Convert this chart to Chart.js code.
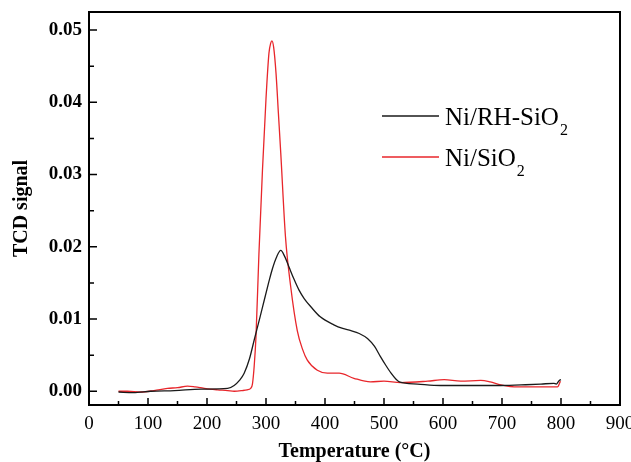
<!DOCTYPE html>
<html>
<head>
<meta charset="utf-8">
<script src="https://cdn.jsdelivr.net/npm/chart.js@4.4.1/dist/chart.umd.min.js"></script>
<style>
  html, body { margin: 0; padding: 0; background: #fff; }
</style>
</head>
<body>
<canvas id="tpr_chart" width="631" height="462"></canvas>
<script>
// TPR profiles
const rhTemps  = [50, 75, 105, 145, 190, 235, 246, 255, 263, 272, 280, 290, 297, 305, 311, 318, 325, 332, 339, 347, 356, 365, 376, 392, 415, 430, 444, 458, 472, 484, 494, 503, 512, 520, 526, 557, 596, 642, 698, 740, 766, 788, 792, 797, 800];
const rhSignal = [-0.0001, -0.0002, 0.0, 0.0001, 0.0003, 0.0004, 0.0008, 0.0015, 0.0025, 0.0045, 0.0071, 0.0103, 0.0126, 0.0152, 0.0170, 0.0186, 0.0195, 0.0186, 0.0172, 0.0156, 0.0140, 0.0128, 0.0117, 0.0103, 0.0092, 0.0087, 0.0084, 0.0080, 0.0073, 0.0062, 0.0048, 0.0036, 0.0025, 0.0017, 0.0013, 0.0010, 0.0008, 0.0008, 0.0008, 0.0009, 0.0010, 0.0011, 0.0010, 0.0015, 0.0016];

const siTemps  = [50, 65, 88, 110, 133, 150, 167, 180, 189, 205, 218, 235, 246, 260, 268, 274, 277, 280, 283, 288, 294, 300, 305, 308, 310, 313, 317, 321, 325, 333, 342, 353, 362, 370, 387, 404, 424, 449, 477, 500, 528, 574, 602, 630, 664, 680, 698, 726, 766, 794, 799];
const siSignal = [0.0, 0.0, -0.0001, 0.0001, 0.0004, 0.0005, 0.0007, 0.0006, 0.0005, 0.0003, 0.0002, 0.0001, 0.0, 0.0001, 0.0002, 0.0004, 0.0010, 0.0035, 0.0075, 0.0190, 0.0306, 0.0405, 0.0468, 0.0482, 0.0485, 0.0476, 0.0440, 0.0385, 0.0330, 0.0214, 0.0144, 0.0084, 0.0058, 0.0043, 0.0029, 0.0025, 0.0025, 0.0018, 0.0013, 0.0014, 0.0012, 0.0014, 0.0016, 0.0014, 0.0015, 0.0013, 0.0009, 0.0006, 0.0006, 0.0006, 0.0014];

const seriesNames  = ["Ni/RH-SiO2", "Ni/SiO2"];
const seriesColors = ["#1a1a1a", "#e8262b"];

const xTicks = [0, 100, 200, 300, 400, 500, 600, 700, 800, 900];
const yTicks = [0.00, 0.01, 0.02, 0.03, 0.04, 0.05];

const serif = "'Liberation Serif', 'Times New Roman', serif";

function toPoints(xs, ys){
    return xs.map(function(x, i){ return {x: x, y: ys[i]}; });
}

// box round the plot and inward ticks (major + minor half-steps)
const framePlugin = {
    id: 'frame',
    afterDraw(chart){
        const ctx = chart.ctx;
        const a = chart.chartArea;
        const xs = chart.scales.x;
        const ys = chart.scales.y;
        ctx.save();
        ctx.strokeStyle = '#000';
        ctx.lineWidth = 1.5;
        ctx.beginPath();
        xTicks.forEach(function(v, i){
            const px = xs.getPixelForValue(v);
            if (i > 0) {
                ctx.moveTo(px, a.bottom);
                ctx.lineTo(px, a.bottom - 7);
            }
            if (i < xTicks.length - 1) {
                const pm = xs.getPixelForValue((v + xTicks[i + 1]) / 2);
                ctx.moveTo(pm, a.bottom);
                ctx.lineTo(pm, a.bottom - 4);
            }
        });
        yTicks.forEach(function(v, i){
            const py = ys.getPixelForValue(v);
            ctx.moveTo(a.left, py);
            ctx.lineTo(a.left + 8, py);
            if (i < yTicks.length - 1) {
                const pm = ys.getPixelForValue((v + yTicks[i + 1]) / 2);
                ctx.moveTo(a.left, pm);
                ctx.lineTo(a.left + 5, pm);
            }
        });
        ctx.stroke();
        ctx.lineWidth = 2;
        ctx.strokeRect(a.left, a.top, a.right - a.left, a.bottom - a.top);
        ctx.restore();
    }
};

// legend with subscripted 2
const legendPlugin = {
    id: 'subLegend',
    afterDraw(chart){
        const ctx = chart.ctx;
        const x0 = 382, x1 = 439, tx = 445;
        const rows = [116, 157];
        ctx.save();
        chart.data.datasets.forEach(function(ds, i){
            const y = rows[i];
            ctx.strokeStyle = ds.borderColor;
            ctx.lineWidth = 1.3;
            ctx.beginPath();
            ctx.moveTo(x0, y);
            ctx.lineTo(x1, y);
            ctx.stroke();

            const m = ds.label.match(/^(.*?)(\d)$/);
            const main = m ? m[1] : ds.label;
            ctx.fillStyle = '#000';
            ctx.textBaseline = 'alphabetic';
            ctx.font = "25px " + serif;
            ctx.fillText(main, tx, y + 9);
            if (m) {
                const w = ctx.measureText(main).width;
                ctx.font = "16px " + serif;
                ctx.fillText(m[2], tx + w + 1, y + 19);
            }
        });
        ctx.restore();
    }
};

const ctx = document.getElementById('tpr_chart').getContext('2d');
const chart = new Chart(ctx, {
    type: 'line',
    data: {
        datasets: [{
            label: seriesNames[0],
            data: toPoints(rhTemps, rhSignal),
            borderColor: seriesColors[0],
            borderWidth: 1.3,
            pointRadius: 0,
            fill: false,
            cubicInterpolationMode: 'monotone'
        }, {
            label: seriesNames[1],
            data: toPoints(siTemps, siSignal),
            borderColor: seriesColors[1],
            borderWidth: 1.3,
            pointRadius: 0,
            fill: false,
            cubicInterpolationMode: 'monotone'
        }]
    },
    options: {
        responsive: false,
        animation: false,
        devicePixelRatio: 1,
        layout: { padding: { left: 0, top: 12, right: 11, bottom: 0 } },
        plugins: {
            legend: { display: false },
            tooltip: { enabled: false }
        },
        scales: {
            x: {
                type: 'linear',
                min: 0,
                max: 900,
                grid: { display: false, drawTicks: false },
                border: { display: false },
                afterBuildTicks: function(s){ s.ticks = xTicks.map(function(v){ return {value: v}; }); },
                afterFit: function(s){ s.height = 57; s.paddingLeft = 0; s.paddingRight = 0; },
                ticks: {
                    color: '#000',
                    padding: 8,
                    maxRotation: 0,
                    autoSkip: false,
                    font: { family: serif, size: 19 }
                },
                title: {
                    display: true,
                    text: 'Temperature (\u00B0C)',
                    color: '#000',
                    padding: { top: 0, bottom: 0 },
                    font: { family: serif, size: 20, weight: 'bold', lineHeight: 1 }
                }
            },
            y: {
                min: -0.0019,
                max: 0.0525,
                grid: { display: false, drawTicks: false },
                border: { display: false },
                afterBuildTicks: function(s){ s.ticks = yTicks.map(function(v){ return {value: v}; }); },
                afterFit: function(s){ s.width = 89; s.paddingTop = 0; s.paddingBottom = 0; },
                ticks: {
                    color: '#000',
                    padding: 7,
                    autoSkip: false,
                    font: { family: serif, size: 19, weight: 'bold' },
                    callback: function(v){ return v.toFixed(2); }
                },
                title: {
                    display: true,
                    text: 'TCD signal',
                    color: '#000',
                    padding: { top: 12, bottom: 0 },
                    font: { family: serif, size: 20, weight: 'bold', lineHeight: 1 }
                }
            }
        }
    },
    plugins: [framePlugin, legendPlugin]
});
</script>
</body>
</html>
